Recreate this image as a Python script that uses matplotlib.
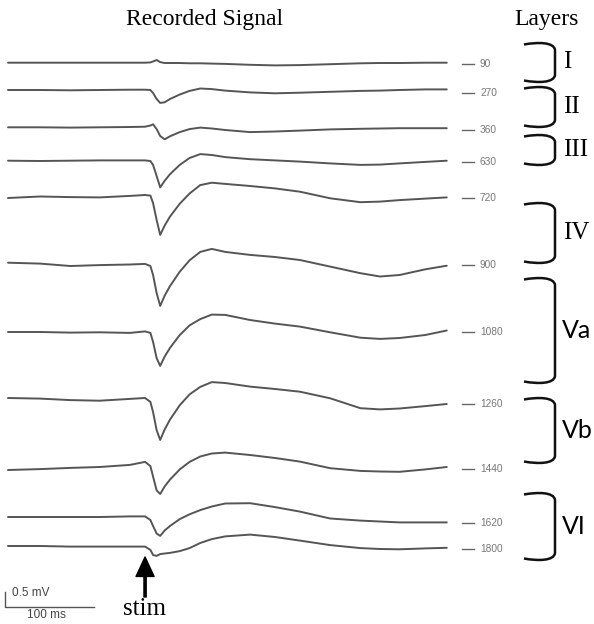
import numpy as np
import matplotlib.pyplot as plt
from matplotlib.path import Path
from matplotlib.patches import PathPatch

# sample times (ms after start of sweep)
t_ms = [0, 36, 70, 103, 137, 154, 160, 163, 167, 171, 176, 182, 193, 204,
        216, 229, 244, 272, 300, 328, 362, 396, 418, 440, 469, 493]

# recording depths (um) and layer names
depths = [90, 270, 360, 630, 720, 900, 1080, 1260, 1440, 1620, 1800]
layers = ['I', 'II', 'III', 'IV', 'Va', 'Vb', 'VI']

# field potentials (mV, relative to each trace's own baseline)
v90 = [0.00, 0.00, 0.00, 0.00, 0.00, 0.00, 0.01, 0.04, 0.09, 0.02, -0.01, -0.01, -0.01,
       -0.02, -0.02, -0.03, -0.04, -0.07, -0.09, -0.08, -0.05, -0.02, -0.01, -0.01, 0.00, 0.00]
v270 = [0.00, 0.00, -0.01, 0.00, 0.01, 0.01, 0.00, -0.10, -0.30, -0.43, -0.41, -0.30, -0.15,
        -0.03, 0.05, 0.03, -0.02, -0.08, -0.11, -0.09, -0.06, -0.03, -0.02, 0.00, 0.02, 0.02]
v360 = [0.00, 0.00, -0.01, 0.00, 0.01, 0.02, 0.06, 0.10, -0.06, -0.29, -0.40, -0.30, -0.16,
        -0.06, -0.01, -0.04, -0.09, -0.16, -0.14, -0.11, -0.07, -0.05, -0.04, -0.03, -0.03, -0.03]
v630 = [0.00, -0.01, 0.00, 0.01, 0.01, 0.01, -0.01, -0.14, -0.51, -0.89, -0.67, -0.45, -0.14,
        0.09, 0.22, 0.19, 0.12, 0.05, 0.01, -0.03, -0.09, -0.14, -0.13, -0.09, -0.04, 0.00]
v720 = [0.00, 0.05, 0.03, 0.02, 0.07, 0.10, 0.08, -0.17, -0.73, -1.23, -0.92, -0.62, -0.19,
        0.15, 0.43, 0.51, 0.47, 0.40, 0.32, 0.21, -0.01, -0.14, -0.12, -0.07, -0.02, 0.02]
v900 = [0.00, -0.03, -0.11, -0.08, -0.06, -0.04, -0.11, -0.41, -1.01, -1.44, -1.10, -0.78, -0.30,
        0.08, 0.36, 0.46, 0.36, 0.26, 0.19, 0.09, -0.13, -0.35, -0.46, -0.41, -0.22, -0.10]
v1080 = [0.00, 0.00, -0.02, -0.01, -0.03, 0.02, -0.03, -0.33, -0.87, -1.13, -0.82, -0.53, -0.10,
         0.22, 0.43, 0.58, 0.57, 0.40, 0.28, 0.18, -0.01, -0.19, -0.23, -0.20, -0.10, 0.05]
v1260 = [0.00, -0.02, -0.07, -0.09, -0.03, 0.00, -0.13, -0.47, -1.07, -1.40, -1.05, -0.72, -0.24,
         0.12, 0.37, 0.53, 0.50, 0.38, 0.30, 0.21, -0.01, -0.34, -0.38, -0.35, -0.27, -0.20]
v1440 = [0.00, 0.03, 0.07, 0.10, 0.17, 0.27, 0.13, -0.22, -0.68, -0.80, -0.55, -0.32, 0.02,
         0.27, 0.45, 0.55, 0.58, 0.50, 0.40, 0.28, 0.06, -0.03, -0.05, -0.06, 0.02, 0.10]
v1620 = [0.00, 0.00, 0.00, 0.00, 0.02, 0.02, -0.10, -0.30, -0.55, -0.63, -0.45, -0.30, -0.07,
         0.09, 0.23, 0.35, 0.45, 0.46, 0.33, 0.18, -0.05, -0.12, -0.15, -0.18, -0.18, -0.18]
v1800 = [0.00, 0.00, -0.02, -0.02, -0.02, -0.02, -0.13, -0.30, -0.33, -0.27, -0.25, -0.23, -0.17,
         -0.07, 0.10, 0.23, 0.32, 0.38, 0.30, 0.18, 0.03, -0.07, -0.10, -0.11, -0.08, -0.06]
traces = [v90, v270, v360, v630, v720, v900, v1080, v1260, v1440, v1620, v1800]

stim_ms = 154

# layout (figure pixels, from the top)
trace_rows = [62.7, 90, 127.3, 160.7, 198, 262.7, 332, 398, 470, 517, 546]
label_rows = [64, 93, 130, 162, 198, 265, 332, 404, 469, 523, 549]
bracket_spans = [(43, 82), (87, 127), (135, 165), (203, 263), (278, 383), (398, 463), (493, 560)]
PX_MS = 0.89   # pixels per ms
PX_MV = 30.0   # pixels per mV
X0 = 8

fig = plt.figure(figsize=(5.94, 6.24), dpi=100)
ax = fig.add_axes([0, 0, 1, 1])
ax.set_xlim(-X0 / PX_MS, (594 - X0) / PX_MS)
ax.set_ylim(-624 / PX_MV, 0)
ax.axis('off')

for row, v in zip(trace_rows, traces):
    ax.plot(t_ms, np.array(v) - row / PX_MV, color='#555555', lw=1.4,
            solid_joinstyle='round', solid_capstyle='round')

# scale bar: 0.5 mV / 100 ms
sx = -3 / PX_MS
sy = -607 / PX_MV
ax.plot([sx, sx, sx + 100], [sy + 0.5, sy, sy], color='#555555', lw=1.0)

# stim arrow
ax.annotate('', xy=(stim_ms, -557 / PX_MV), xytext=(stim_ms, -597 / PX_MV),
            arrowprops=dict(facecolor='black', edgecolor='black', width=1.6,
                            headwidth=13, headlength=14))

# overlay in pixel units for the text and brackets
ov = fig.add_axes([0, 0, 1, 1], facecolor='none')
ov.set_xlim(0, 594)
ov.set_ylim(624, 0)
ov.axis('off')

serif = 'Liberation Serif'
ov.text(205, 20, 'Recorded Signal', ha='center', va='center', fontsize=17, family=serif)
ov.text(547, 20, 'Layers', ha='center', va='center', fontsize=17, family=serif)
ov.text(145, 609, 'stim', ha='center', va='center', fontsize=18, family=serif)
ov.text(12, 593, '0.5 mV', ha='left', va='center', fontsize=8.5, color='#444444',
        family='Liberation Sans')
ov.text(46, 615, '100 ms', ha='center', va='center', fontsize=8.5, color='#444444',
        family='Liberation Sans')

for d, ry in zip(depths, label_rows):
    ov.plot([462, 474], [ry, ry], color='#666666', lw=1.0)
    ov.text(480, ry, str(d), ha='left', va='center', fontsize=7.3, color='#777777',
            family='Liberation Sans')

x0, x1 = 524, 555
for (top, bot), name in zip(bracket_spans, layers):
    verts = [(x0, top + 1.5), (x0 + 14, top - 1), (x1 - 1, top - 1), (x1, top + 7),
             (x1, bot - 7),
             (x1 - 1, bot + 1), (x0 + 14, bot + 1), (x0, bot - 1.5)]
    codes = [Path.MOVETO, Path.CURVE4, Path.CURVE4, Path.CURVE4,
             Path.LINETO,
             Path.CURVE4, Path.CURVE4, Path.CURVE4]
    ov.add_patch(PathPatch(Path(verts, codes), fill=False, lw=1.8, edgecolor='#111111'))
    mid = (top + bot) / 2
    if name in ('Va', 'Vb', 'VI'):
        ov.text(562, mid, name, ha='left', va='center', fontsize=18, family='Lato')
    else:
        ov.text(563, mid, name, ha='left', va='center', fontsize=18, family=serif)

fig.savefig('out.png', dpi=100)
